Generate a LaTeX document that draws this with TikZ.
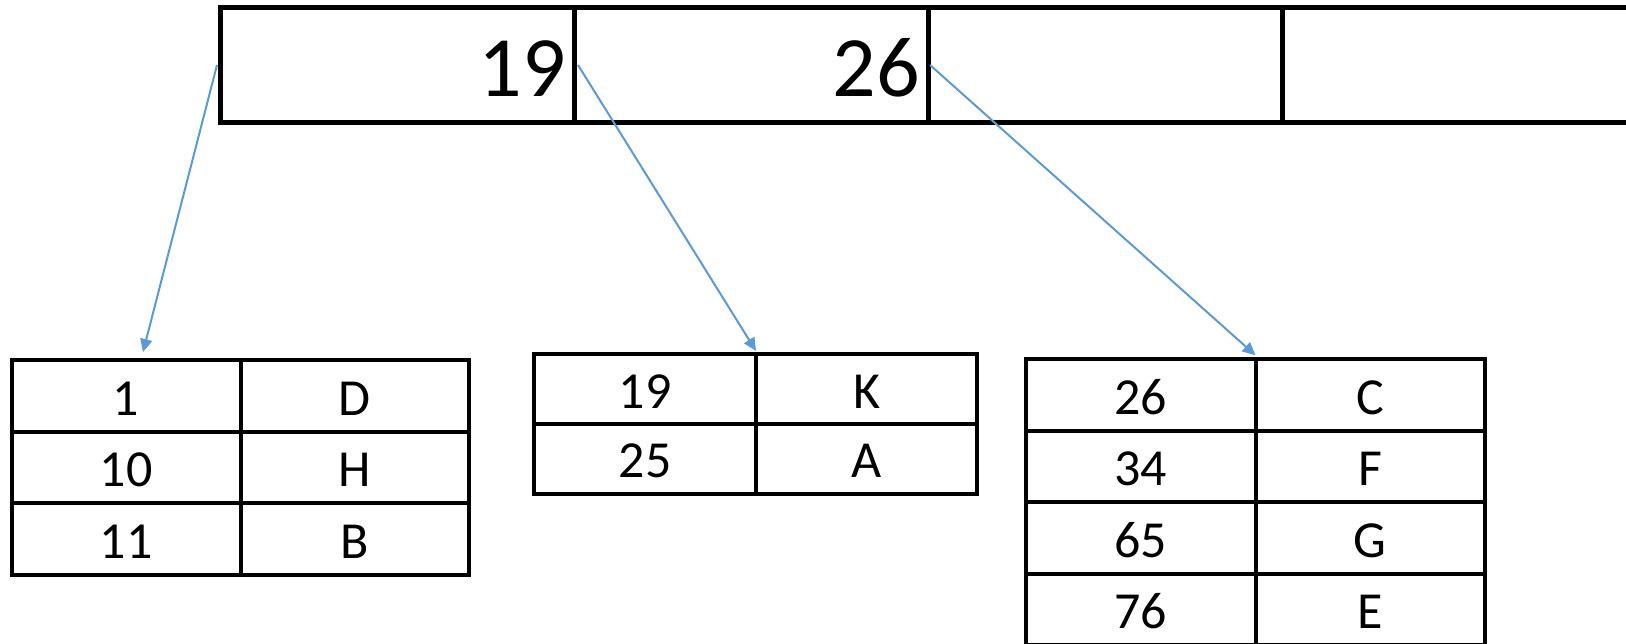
\documentclass[tikz,border=0pt]{standalone}
\usepackage{fontspec}
\setmainfont{Carlito}
\usetikzlibrary{arrows.meta,positioning,calc}
\definecolor{linkblue}{HTML}{5B9BD5}
\begin{document}
\begin{tikzpicture}[x=1pt,y=-1pt,
  topcell/.style={draw, line width=5pt, minimum width=354pt, minimum height=115pt, inner sep=0pt, outer sep=0pt, anchor=north west},
  toptext/.style={anchor=base east, font=\fontsize{86}{96}\selectfont, inner sep=0pt},
  cell/.style={draw, line width=4pt, inner sep=0pt, outer sep=0pt, anchor=north west, font=\fontsize{52}{60}\selectfont, text height=55pt, text depth=16pt, minimum height=71.5pt},
  link/.style={draw=linkblue, line width=2pt, -{Triangle[length=13pt,width=12pt]}}]
\useasboundingbox (0,0) rectangle (1626,644);
% top row
\node[topcell] (c1) at (220,7.5) {};
\node[topcell] (c2) at (574,7.5) {};
\node[topcell] (c3) at (928,7.5) {};
\node[topcell] (c4) at (1282,7.5) {};
\node[toptext] (k1) at ([xshift=-8pt,yshift=25.5pt]c1.south east) {19};
\node[toptext] (k2) at ([xshift=-8pt,yshift=25.5pt]c2.south east) {26};
% table 1
\foreach \i/\k/\v [count=\r from 0] in {1/1/D, 2/10/H, 3/11/B} {
  \node[cell, minimum width=229pt] (t1a\i) at (11.5, 360+71.5*\r) {\k};
  \node[cell, minimum width=228pt] (t1b\i) at (240.5, 360+71.5*\r) {\v};
}
% table 2
\foreach \i/\k/\v [count=\r from 0] in {1/19/K, 2/25/A} {
  \node[cell, minimum width=222pt, minimum height=69.75pt, text height=54pt] (t2a\i) at (534, 354+69.75*\r) {\k};
  \node[cell, minimum width=221pt, minimum height=69.75pt, text height=54pt] (t2b\i) at (756, 354+69.75*\r) {\v};
}
% table 3
\foreach \i/\k/\v [count=\r from 0] in {1/26/C, 2/34/F, 3/65/G, 4/76/E} {
  \node[cell, minimum width=230pt] (t3a\i) at (1025.5, 359.3+71.4*\r) {\k};
  \node[cell, minimum width=229.5pt] (t3b\i) at (1255.5, 359.3+71.4*\r) {\v};
}
% links
\draw[link] ([xshift=-3pt]c1.west) -- ([xshift=17pt,yshift=8pt]t1a1.north);
\draw[link] ([xshift=4pt]c2.west) -- ([yshift=3pt]t2a1.north east);
\draw[link] ([xshift=2pt]c3.west) -- ([yshift=4pt]t3a1.north east);
\end{tikzpicture}
\end{document}
